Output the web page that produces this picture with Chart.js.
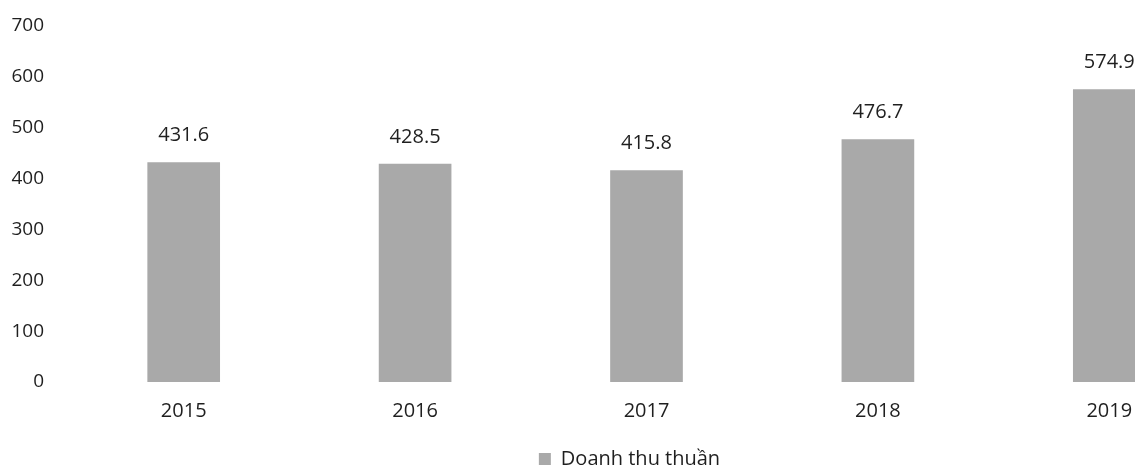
<!DOCTYPE html>
<html>
<head>
<meta charset="utf-8">
<script src="https://cdn.jsdelivr.net/npm/chart.js@4/dist/chart.umd.min.js"></script>
<style>
  html, body { margin: 0; padding: 0; background: #ffffff; }
  #wrap { width: 1135px; height: 468px; overflow: hidden; position: relative; }
  #c { position: absolute; left: 0; top: 0; }
</style>
</head>
<body>
<div id="wrap"><canvas id="c" width="1258" height="481"></canvas></div>
<script>
const categories = ["2015", "2016", "2017", "2018", "2019"];
const revenue = [431.6, 428.5, 415.8, 476.7, 574.9];
const seriesName = "Doanh thu thuần";
const yTicks = [0, 100, 200, 300, 400, 500, 600, 700];

const FONT = "'Open Sans', sans-serif";
const TEXT = "#1f1f1f";
const BAR = "#a9a9a9";

const valueLabels = {
  id: "valueLabels",
  afterDatasetsDraw(chart) {
    const ctx = chart.ctx;
    ctx.save();
    ctx.font = "20px " + FONT;
    ctx.fillStyle = TEXT;
    ctx.textAlign = "center";
    ctx.textBaseline = "middle";
    chart.data.datasets.forEach((ds, i) => {
      chart.getDatasetMeta(i).data.forEach((bar, j) => {
        ctx.fillText(ds.data[j].toFixed(1), bar.x, bar.y - 27);
      });
    });
    ctx.restore();
  }
};

// center the legend on the full (uncropped) figure width
const legendShift = {
  id: "legendShift",
  afterLayout(chart) {
    const lg = chart.legend;
    if (lg) { lg.left += 17; lg.right += 17; }
  }
};

new Chart(document.getElementById("c"), {
  type: "bar",
  data: {
    labels: categories,
    datasets: [{
      label: seriesName,
      data: revenue,
      backgroundColor: BAR,
      borderWidth: 0,
      barThickness: 72
    }]
  },
  options: {
    responsive: false,
    animation: false,
    layout: { padding: { top: 26, right: 33, bottom: 2, left: 0 } },
    scales: {
      x: {
        grid: { display: false, drawTicks: false },
        border: { display: false },
        ticks: { color: TEXT, font: { family: FONT, size: 20 }, padding: 17 },
        afterFit(s) { s.height = 57; }
      },
      y: {
        min: 0,
        max: 700,
        grid: { display: false, drawTicks: true, tickLength: 14 },
        border: { display: false },
        afterBuildTicks(s) { s.ticks = yTicks.map(v => ({ value: v })); },
        ticks: { color: TEXT, font: { family: FONT, size: 19 }, padding: 10 },
        afterFit(s) { s.width = 68; }
      }
    },
    plugins: {
      legend: {
        position: "bottom",
        labels: {
          color: TEXT,
          font: { family: FONT, size: 20 },
          boxWidth: 12,
          boxHeight: 12,
          padding: 10
        }
      },
      tooltip: { enabled: false }
    }
  },
  plugins: [valueLabels, legendShift]
});
</script>
</body>
</html>
